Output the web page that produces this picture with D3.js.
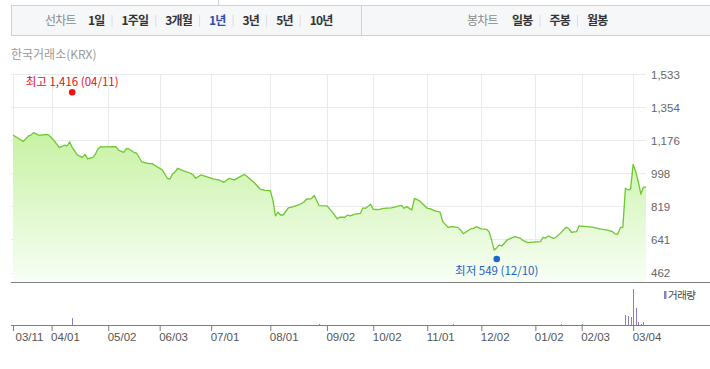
<!DOCTYPE html>
<html>
<head>
<meta charset="utf-8">
<script src="https://cdn.jsdelivr.net/npm/d3@7"></script>
<style>
  body { margin: 0; background: #fff; }
  svg { display: block; font-family: "Liberation Sans", Arial, sans-serif; }
  .ko { font-family: "Noto Sans CJK KR", "Noto Sans", sans-serif; }
</style>
</head>
<body>
<svg id="chart" width="710" height="369"></svg>
<script>
// trading-day index (0 = 03/11) and closing price
const priceDays = [0,2,4,6,7,8,10,11,13,14,16,18,20,21,22,23,25,27,28,29,31,32,33,34,36,40,41,43,44,45,47,48,50,52,54,56,58,60,61,62,63,64,66,69,70,71,73,76,78,80,82,84,86,89,90,91,94,96,98,100,101,102,103,104,105,107,109,111,113,114,116,117,119,122,124,126,127,129,130,131,133,135,136,137,139,140,142,144,147,149,151,152,153,155,156,158,159,161,162,164,166,167,169,171,173,174,175,178,179,180,182,184,185,186,187,188,189,190,192,193,195,197,198,200,202,205,206,207,208,210,211,213,215,216,217,219,220,222,225,228,231,233,234,235,236,237,238,239,240,241,242,243,244,245,246];
const prices = [1204,1187,1170,1199,1204,1217,1204,1203,1208,1203,1174,1136,1149,1145,1167,1138,1097,1084,1100,1075,1084,1100,1129,1141,1140,1141,1123,1111,1130,1129,1111,1107,1060,1052,1050,1033,1016,971,967,994,1006,1025,1012,998,989,971,989,976,966,962,949,971,962,985,992,980,944,913,906,904,854,768,788,773,773,812,818,827,842,858,861,879,823,822,791,752,761,761,773,768,778,782,811,809,831,804,802,809,811,818,825,809,818,800,863,849,836,809,807,795,788,737,707,710,705,691,672,699,701,710,698,696,683,638,584,597,611,606,638,644,656,649,638,624,627,629,653,649,660,647,653,678,707,699,680,683,714,712,708,698,692,683,671,669,705,707,917,908,912,1046,1006,953,886,922,925];

// volume (shares) on the days that traded
const volumeDays = [23,119,171,213,221,238,239,240,241,242,243,244,245];
const volumes = [700,150,120,80,100,1030,900,800,3600,1700,300,120,300];

const dateTickDays = [0,15,37,57,77,100,122,140,161,182,203,221,241];
const dateTickLabels = ["03/11","04/01","05/02","06/03","07/01","08/01","09/02","10/02","11/01","12/02","01/02","02/03","03/04"];
const priceTicks = [462,641,819,998,1176,1354,1533];

const periodTabs = ["1일","1주일","3개월","1년","3년","5년","10년"];
const candleTabs = ["일봉","주봉","월봉"];
const activePeriod = "1년";

const highMark = [23, 1416, "04/11"];
const lowMark = [188, 549, "12/10"];

const svg = d3.select("#chart");

const x = d3.scaleLinear().domain([0, 246]).range([13, 646]);
const y = d3.scaleLinear().domain([462, 1533]).range([272.7, 74]);
const volY = d3.scaleLinear().domain([0, 3700]).range([325, 288]);
const plotBottom = 282;

// ---- header toolbar ----
const head = svg.append("g").attr("class", "ko");
head.append("line").attr("x1", 218.5).attr("x2", 218.5).attr("y1", 0).attr("y2", 5)
  .attr("stroke", "#cfd1d5");
head.append("rect").attr("x", 11.5).attr("y", 5.5).attr("width", 710).attr("height", 30)
  .attr("fill", "#f6f7f9").attr("stroke", "#cfd1d5");
head.append("line").attr("x1", 361.5).attr("x2", 361.5).attr("y1", 5.5).attr("y2", 35.5)
  .attr("stroke", "#cfd1d5");

function tabRow(x0, title, titleEnd, items) {
  head.append("text").attr("x", x0).attr("y", 25).text(title)
    .attr("font-size", 12).attr("letter-spacing", -0.8).attr("fill", "#8a8a8a");
  let cx = titleEnd;
  items.forEach((t, i) => {
    if (i > 0) {
      head.append("line").attr("x1", cx + 7.5).attr("x2", cx + 7.5)
        .attr("y1", 15).attr("y2", 27).attr("stroke", "#dcdde0");
      cx += 17;
    }
    const txt = head.append("text").attr("x", cx).attr("y", 25).text(t)
      .attr("font-size", 12).attr("font-weight", "bold").attr("letter-spacing", -0.8)
      .attr("fill", t === activePeriod ? "#2f4fa8" : "#333");
    cx += txt.node().getComputedTextLength();
  });
}
tabRow(45, "선차트", 88, periodTabs);
tabRow(467, "봉차트", 512, candleTabs);

svg.append("text").attr("class", "ko").attr("x", 11).attr("y", 59)
  .attr("font-size", 12).attr("fill", "#9a9a9a").text("한국거래소(KRX)");

// ---- grid ----
const grid = svg.append("g").attr("stroke", "#ebebeb").attr("shape-rendering", "crispEdges");
grid.selectAll(".h").data(priceTicks).join("line")
  .attr("x1", 11).attr("x2", 646)
  .attr("y1", d => Math.round(y(d)) + 0.5).attr("y2", d => Math.round(y(d)) + 0.5);
grid.selectAll(".v").data(dateTickDays).join("line")
  .attr("x1", d => Math.round(x(d)) + 0.5).attr("x2", d => Math.round(x(d)) + 0.5)
  .attr("y1", 74).attr("y2", plotBottom);

// ---- price area + line ----
const defs = svg.append("defs");
const grad = defs.append("linearGradient").attr("id", "areaFill")
  .attr("gradientUnits", "userSpaceOnUse").attr("x1", 0).attr("x2", 0).attr("y1", 120).attr("y2", plotBottom);
grad.append("stop").attr("offset", 0).attr("stop-color", "#c3f19c");
grad.append("stop").attr("offset", 1).attr("stop-color", "#f8fef5");

const series = priceDays.map((d, i) => [d, prices[i]]);
svg.append("path").datum(series)
  .attr("fill", "url(#areaFill)")
  .attr("d", d3.area().x(d => x(d[0])).y0(plotBottom).y1(d => y(d[1])));
svg.append("path").datum(series)
  .attr("fill", "none").attr("stroke", "#6cc82e").attr("stroke-width", 1.3)
  .attr("stroke-linejoin", "round")
  .attr("d", d3.line().x(d => x(d[0])).y(d => y(d[1])));

// ---- price axis (right) ----
const yAxis = svg.append("g").attr("transform", "translate(650,0)")
  .call(d3.axisRight(y).tickValues(priceTicks).tickSize(0).tickFormat(d3.format(",")));
yAxis.select(".domain").remove();
yAxis.selectAll("text").attr("x", 1).attr("dy", "0.35em")
  .attr("font-size", 11.5).attr("fill", "#666").attr("font-family", "Liberation Sans, Arial, sans-serif");

svg.append("line").attr("x1", 11).attr("x2", 710).attr("y1", plotBottom + 0.5).attr("y2", plotBottom + 0.5)
  .attr("stroke", "#7d7d7d");

// ---- high / low markers ----
svg.append("circle").attr("cx", x(highMark[0])).attr("cy", y(highMark[1]) - 3.4).attr("r", 3.3).attr("fill", "#f01010");
svg.append("text").attr("class", "ko").attr("x", x(highMark[0])).attr("y", y(highMark[1]) - 9.5)
  .attr("text-anchor", "middle").attr("font-size", 11.5).attr("fill", "#e81010")
  .text(`최고 ${d3.format(",")(highMark[1])} (${highMark[2]})`);
svg.append("circle").attr("cx", x(lowMark[0])).attr("cy", y(lowMark[1]) + 2.5).attr("r", 3.3).attr("fill", "#1f66d0");
svg.append("text").attr("class", "ko").attr("x", x(lowMark[0])).attr("y", y(lowMark[1]) + 18)
  .attr("text-anchor", "middle").attr("font-size", 11.5).attr("fill", "#1f5fc4")
  .text(`최저 ${d3.format(",")(lowMark[1])} (${lowMark[2]})`);

// ---- volume ----
svg.append("g").attr("shape-rendering", "crispEdges")
  .selectAll("rect").data(volumeDays).join("rect")
  .attr("x", d => Math.round(x(d)))
  .attr("width", 1)
  .attr("y", (d, i) => volY(volumes[i]))
  .attr("height", (d, i) => volY(0) - volY(volumes[i]))
  .attr("fill", "#8f7cc4");

svg.append("rect").attr("x", 664).attr("y", 291).attr("width", 2.5).attr("height", 8).attr("fill", "#8f7cc4");
svg.append("text").attr("class", "ko").attr("x", 668).attr("y", 299)
  .attr("font-size", 10.5).attr("fill", "#444").attr("letter-spacing", -0.5).text("거래량");

// ---- date axis ----
const xAxis = svg.append("g").attr("transform", "translate(0,325)")
  .call(d3.axisBottom(x).tickValues(dateTickDays).tickSize(6)
    .tickFormat((d, i) => dateTickLabels[i]));
xAxis.select(".domain").remove();
xAxis.selectAll(".tick line").attr("stroke", "#7d7d7d");
xAxis.selectAll("text").attr("text-anchor", "start").attr("x", (d, i) => i === 0 ? 2 : -1).attr("y", 8)
  .attr("font-size", 11.5).attr("fill", "#555").attr("font-family", "Liberation Sans, Arial, sans-serif");
svg.append("line").attr("x1", 11).attr("x2", 710).attr("y1", 325.5).attr("y2", 325.5)
  .attr("stroke", "#7d7d7d");
</script>
</body>
</html>
